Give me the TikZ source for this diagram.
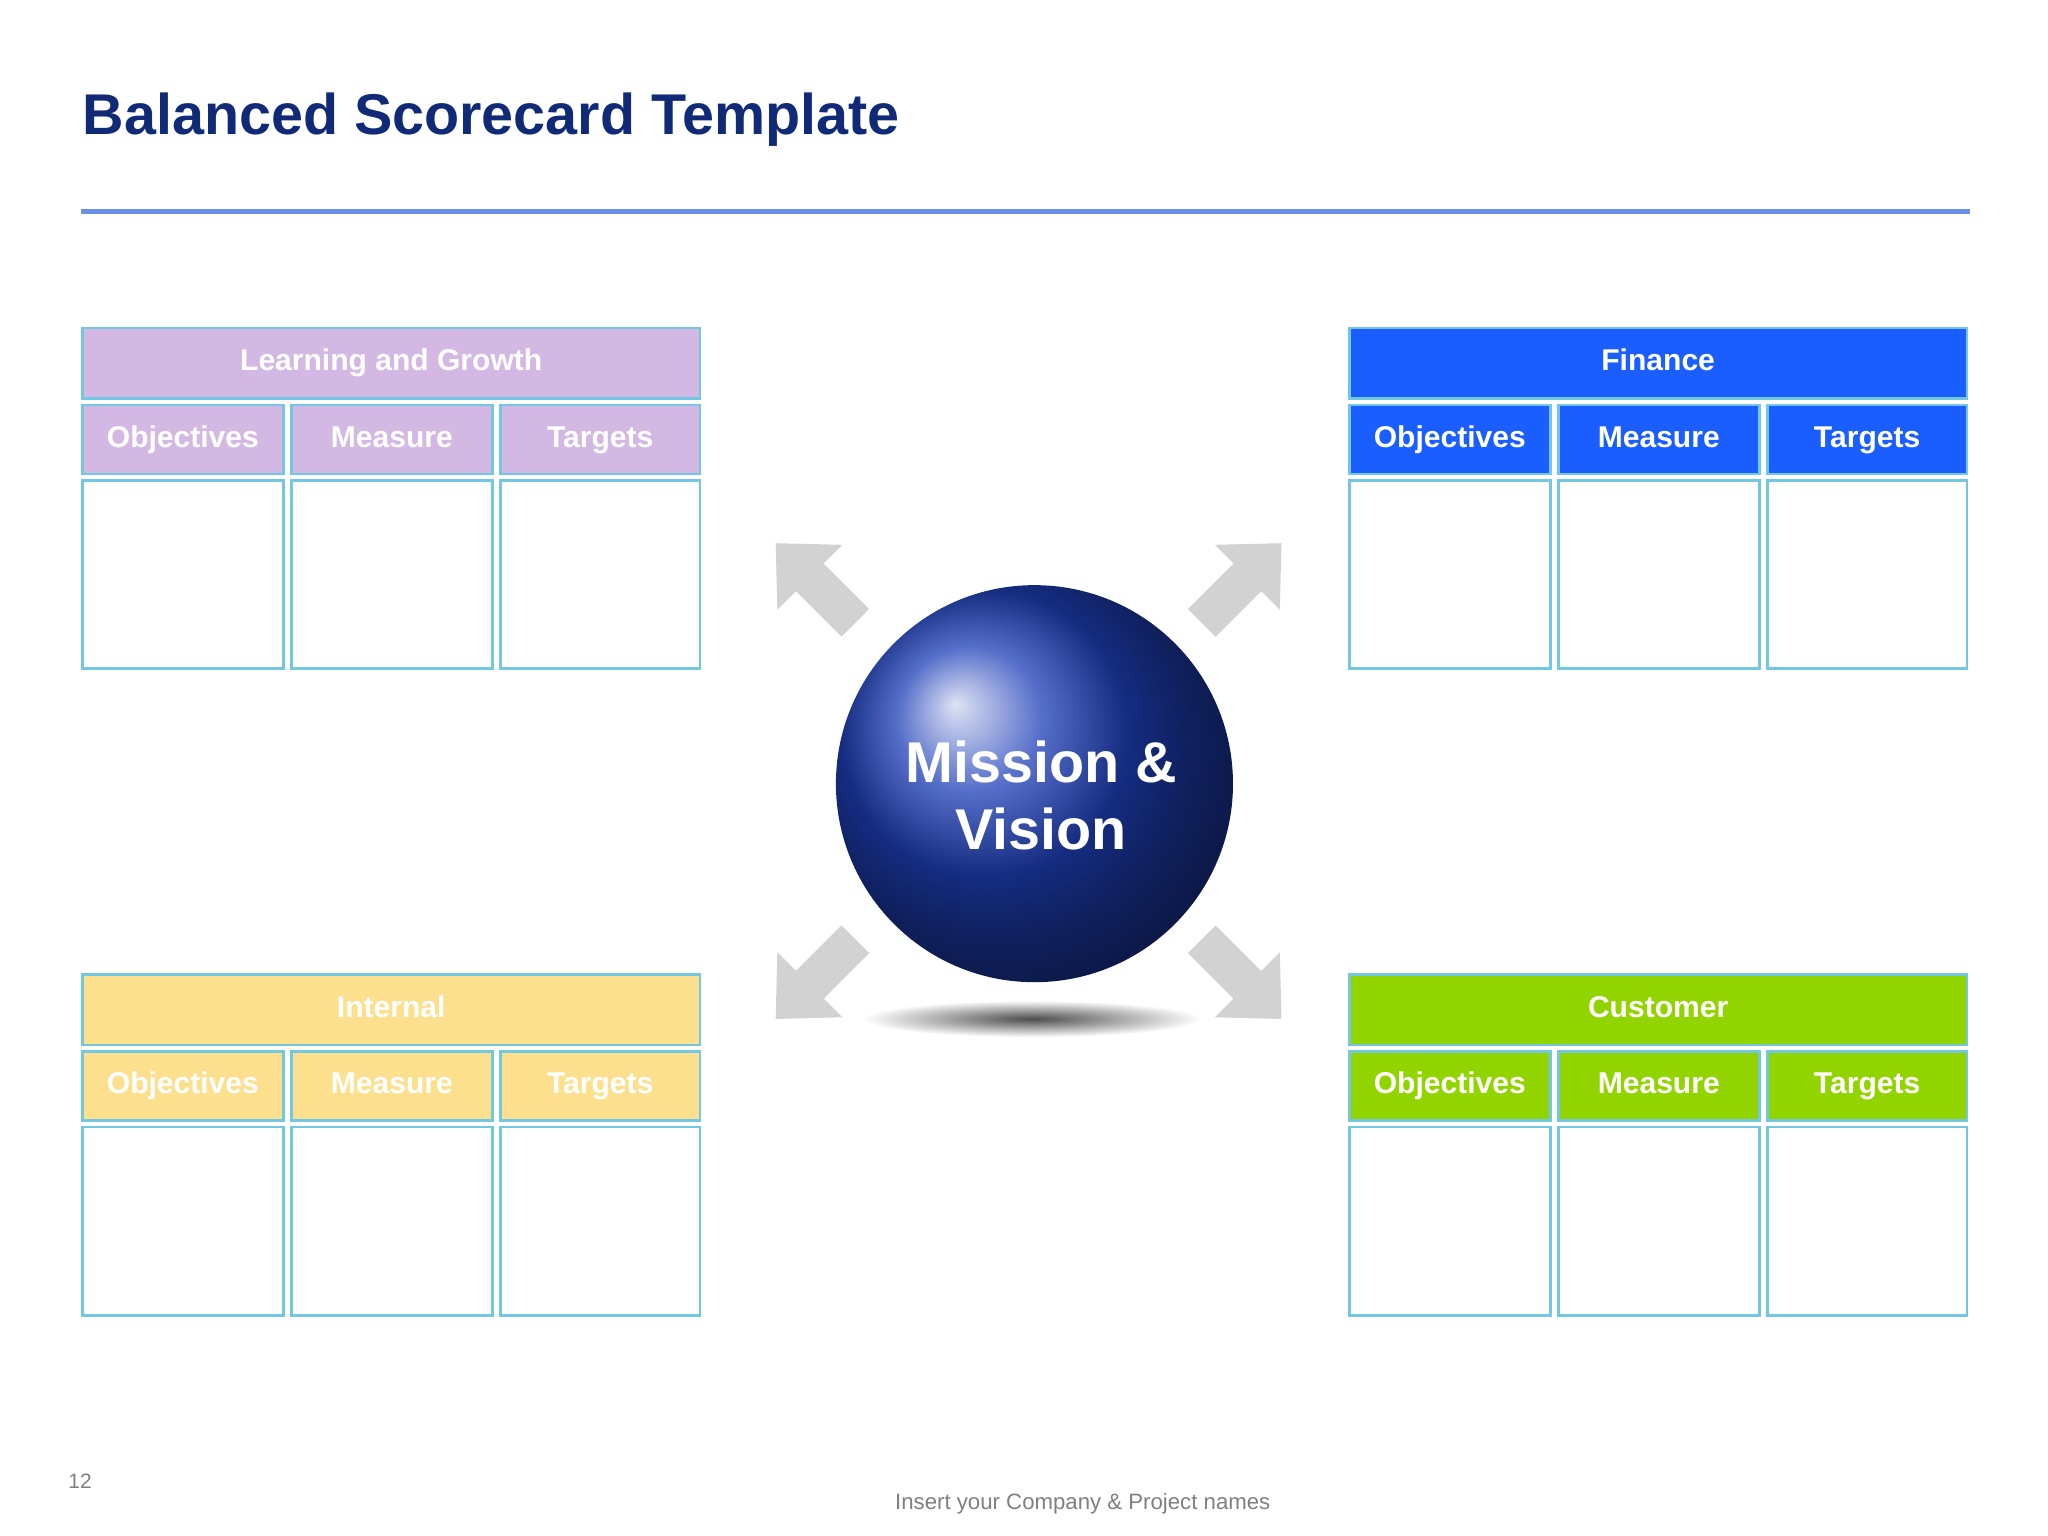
\documentclass[tikz,border=0pt]{standalone}
\usepackage{fontspec}
\setmainfont{Liberation Sans}
\usetikzlibrary{shadings}
\definecolor{navy}{HTML}{102A78}
\definecolor{rule}{HTML}{6A8FE8}
\definecolor{edge}{HTML}{72C8E2}
\definecolor{lav}{HTML}{D4B8E4}
\definecolor{fblue}{HTML}{1A5EFF}
\definecolor{yel}{HTML}{FDE08E}
\definecolor{grn}{HTML}{92D400}
\definecolor{arr}{HTML}{D2D2D2}
\definecolor{ballc}{HTML}{1E3FB8}
\newcommand{\cellbox}[7]{%
  \pgfmathsetmacro\cw{((#4)-(#2))*0.5}%
  \pgfmathsetmacro\ch{((#5)-(#3))*0.5}%
  \pgfmathsetmacro\cx{((#2)+(#4))/2}%
  \pgfmathsetmacro\cy{((#3)+(#5))/2}%
  \node[draw=edge,line width=1pt,fill=#6,inner sep=0pt,
    minimum width=\cw pt,minimum height=\ch pt,text height=8.5pt,text depth=2.5pt,
    text=white,font=\bfseries\fontsize{11.5}{13}\selectfont]
    (#1) at (\cx,\cy) {#7};}
\newcommand{\group}[5]{%
  \cellbox{#1h}{#2}{#3}{#2+473}{#3+54}{#4}{#5}
  \cellbox{#1o}{#2}{#3+59}{#2+154}{#3+112}{#4}{Objectives}
  \cellbox{#1m}{#2+160}{#3+59}{#2+314}{#3+112}{#4}{Measure}
  \cellbox{#1t}{#2+320}{#3+59}{#2+473}{#3+112}{#4}{Targets}
  \cellbox{#1a}{#2}{#3+117}{#2+154}{#3+261}{white}{}
  \cellbox{#1b}{#2+160}{#3+117}{#2+314}{#3+261}{white}{}
  \cellbox{#1c}{#2+320}{#3+117}{#2+473}{#3+261}{white}{}}
\begin{document}
\begin{tikzpicture}[x=0.5pt,y=-0.5pt,
  blockarrow/.style={fill=arr,draw=none}]
\useasboundingbox (0,0) rectangle (1568,1176);
\fill[white] (0,0) rectangle (1568,1176);
\node[anchor=base west,inner sep=0pt,text=navy,font=\bfseries\fontsize{22}{26}\selectfont] (title) at (63,103) {Balanced Scorecard Template};
\draw[rule,line width=2pt] (62,162) -- (1508,162);
\group{L}{63}{251}{lav}{Learning and Growth}
\group{F}{1033}{251}{fblue}{Finance}
\group{I}{63}{746}{yel}{Internal}
\group{C}{1033}{746}{grn}{Customer}
% shadow
\shade[inner color=black!70,outer color=white] (790,780) ellipse (130 and 14);
% arrows
\foreach \ax/\ay/\ang in {625/447/135, 950/447/45, 625/749/-135, 950/749/-45}{
  \fill[blockarrow,shift={(\ax,\ay)},rotate=\ang,scale=0.88]
    (-48,-17) -- (8,-17) -- (8,-40) -- (50,0) -- (8,40) -- (8,17) -- (-48,17) -- cycle;}
% sphere
\begin{scope}[y=0.5pt]
\shade[ball color=ballc] (792,-600) circle (152);
\end{scope}
\node[circle,minimum size=152pt,inner sep=0pt] (mv) at (792,600) {};
\node[align=center,text=white,font=\bfseries\fontsize{22}{26}\selectfont] (mvt) at (797,609) {Mission \&\\Vision};
\node[anchor=base west,inner sep=0pt,text=gray,font=\fontsize{8}{9}\selectfont] (pg) at (52,1140) {12};
\node[anchor=base,inner sep=0pt,text=gray,font=\fontsize{8.5}{10}\selectfont] (ft) at (829,1156) {Insert your Company \& Project names};
\end{tikzpicture}
\end{document}
